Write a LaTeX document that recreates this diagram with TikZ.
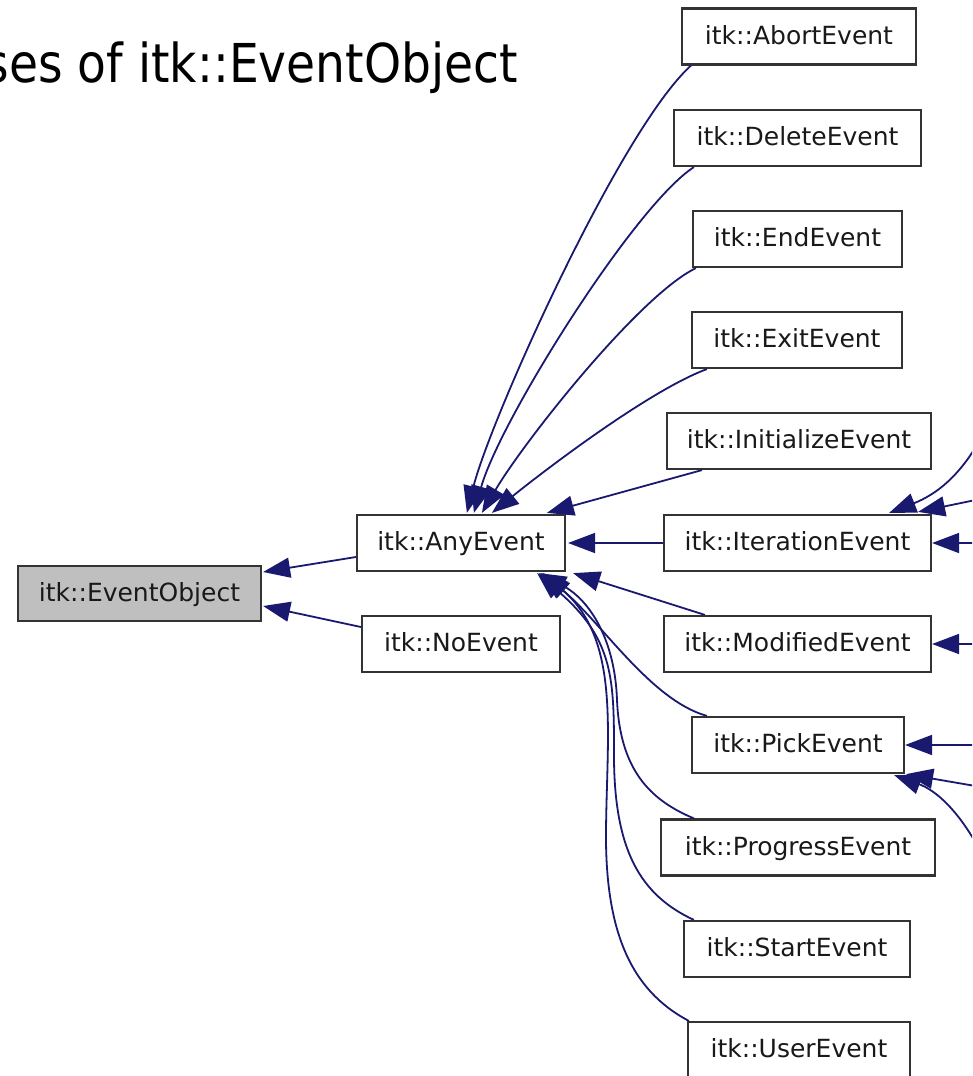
\documentclass[tikz,border=0pt]{standalone}
\usepackage{fontspec}
\setmainfont{DejaVu Sans}
\usetikzlibrary{arrows.meta,calc}
\definecolor{edgeblue}{HTML}{191970}
\definecolor{boxline}{HTML}{333333}
\definecolor{boxgray}{HTML}{BFBFBF}
\begin{document}
\begin{tikzpicture}[x=1pt,y=-1pt,
  cls/.style={draw=boxline, line width=2.2pt, fill=white, minimum height=56pt,
    inner xsep=0pt, inner ysep=0pt, text height=18.5pt, text depth=3.5pt,
    font=\fontsize{25}{30}\selectfont, text=black!90},
  edge/.style={draw=edgeblue, line width=1.8pt, line join=miter,
    -{Triangle[length=27pt,width=20pt]}},
]
\useasboundingbox (0,0) rectangle (972,1076);
\clip (0,0) rectangle (972,1076);
\fill[white] (0,0) rectangle (972,1076);

% title
\node[anchor=base east, font=\fontsize{53.6}{60}\selectfont, inner sep=0pt] (title) at (518,82)
  {\scalebox{0.88}[1]{ses of itk::EventObject}};

% nodes
\node[cls, minimum width=243pt, minimum height=55pt, fill=boxgray] (eo) at (139.5,593.5) {itk::EventObject};
\node[cls, minimum width=208pt] (any) at (461,543) {itk::AnyEvent};
\node[cls, minimum width=198pt] (no) at (461,644) {itk::NoEvent};
\node[cls, minimum width=234pt] (abort) at (799,36.5) {itk::AbortEvent};
\node[cls, minimum width=247pt] (delete) at (797.5,138) {itk::DeleteEvent};
\node[cls, minimum width=209pt] (end) at (797.5,239) {itk::EndEvent};
\node[cls, minimum width=210pt] (exit) at (797,340) {itk::ExitEvent};
\node[cls, minimum width=264pt] (init) at (799,441) {itk::InitializeEvent};
\node[cls, minimum width=267pt] (iter) at (797.5,543) {itk::IterationEvent};
\node[cls, minimum width=267pt] (mod) at (797.5,644) {itk::ModifiedEvent};
\node[cls, minimum width=212pt] (pick) at (798,745) {itk::PickEvent};
\node[cls, minimum width=274pt] (prog) at (798,847.5) {itk::ProgressEvent};
\node[cls, minimum width=226pt] (start) at (797,949) {itk::StartEvent};
\node[cls, minimum width=222pt] (user) at (799,1050) {itk::UserEvent};

% edges to EventObject
\draw[edge] ($(any.west)+(0,14)$) -- ($(eo.east)+(1,-21.5)$);
\draw[edge] ($(no.west)+(0,-17)$) -- ($(eo.east)+(1,12.5)$);

% edges to AnyEvent (upper)
\draw[edge] ($(abort.south west)+(10,0)$) .. controls (620,130) and (490,420) .. ($(any.north west)+(111,-1)$);
\draw[edge] ($(delete.south west)+(21,0)$) .. controls (635,205) and (500,420) .. ($(any.north west)+(118,-1)$);
\draw[edge] ($(end.south west)+(4,0)$) .. controls (640,295) and (525,440) .. ($(any.north west)+(126,-1)$);
\draw[edge] ($(exit.south west)+(16,0)$) .. controls (650,390) and (545,470) .. ($(any.north west)+(136,-1)$);
\draw[edge] ($(init.south west)+(36,0)$) -- ($(any.north west)+(191,-1)$);
\draw[edge] (iter.west) -- ($(any.east)+(2,0)$);

% edges to AnyEvent (lower)
\draw[edge] ($(mod.north west)+(42,0)$) -- ($(any.south east)+(7,1)$);
\draw[edge] ($(pick.north west)+(16,0)$) .. controls (650,700) and (600,620) .. ($(any.south east)+(-25,1)$);
\draw[edge] ($(prog.north west)+(34,0)$) .. controls (650,800) and (620,770) .. (617,700)
   .. controls (615,640) and (590,600) .. ($(any.south east)+(-27,1)$);
\draw[edge] ($(start.north west)+(11,0)$) .. controls (640,895) and (615,850) .. (614,760)
   .. controls (614,680) and (615,640) .. ($(any.south east)+(-29,1)$);
\draw[edge] ($(user.north west)+(2,0)$) .. controls (630,990) and (605,930) .. (606,830)
   .. controls (607,730) and (620,640) .. ($(any.south east)+(-23,1)$);

% edges from outside the view
\coordinate (r1) at (990,420);
\coordinate (r2) at (990,497);
\coordinate (r3) at (990,543);
\coordinate (r4) at (990,644);
\coordinate (r5) at (990,745);
\coordinate (r6) at (990,788.5);
\coordinate (r7) at (985,860);
\draw[edge] (r1) .. controls (965,475) and (935,495) .. ($(iter.north east)+(-43,-1)$);
\draw[edge] (r2) -- ($(iter.north east)+(-14,-2)$);
\draw[edge] (r3) -- (iter.east);
\draw[edge] (r4) -- (mod.east);
\draw[edge] (r5) -- (pick.east);
\draw[edge] (r6) -- ($(pick.south east)+(1,0)$);
\draw[edge] (r7) .. controls (960,810) and (935,790) .. ($(pick.south east)+(-11,1)$);
\end{tikzpicture}
\end{document}
